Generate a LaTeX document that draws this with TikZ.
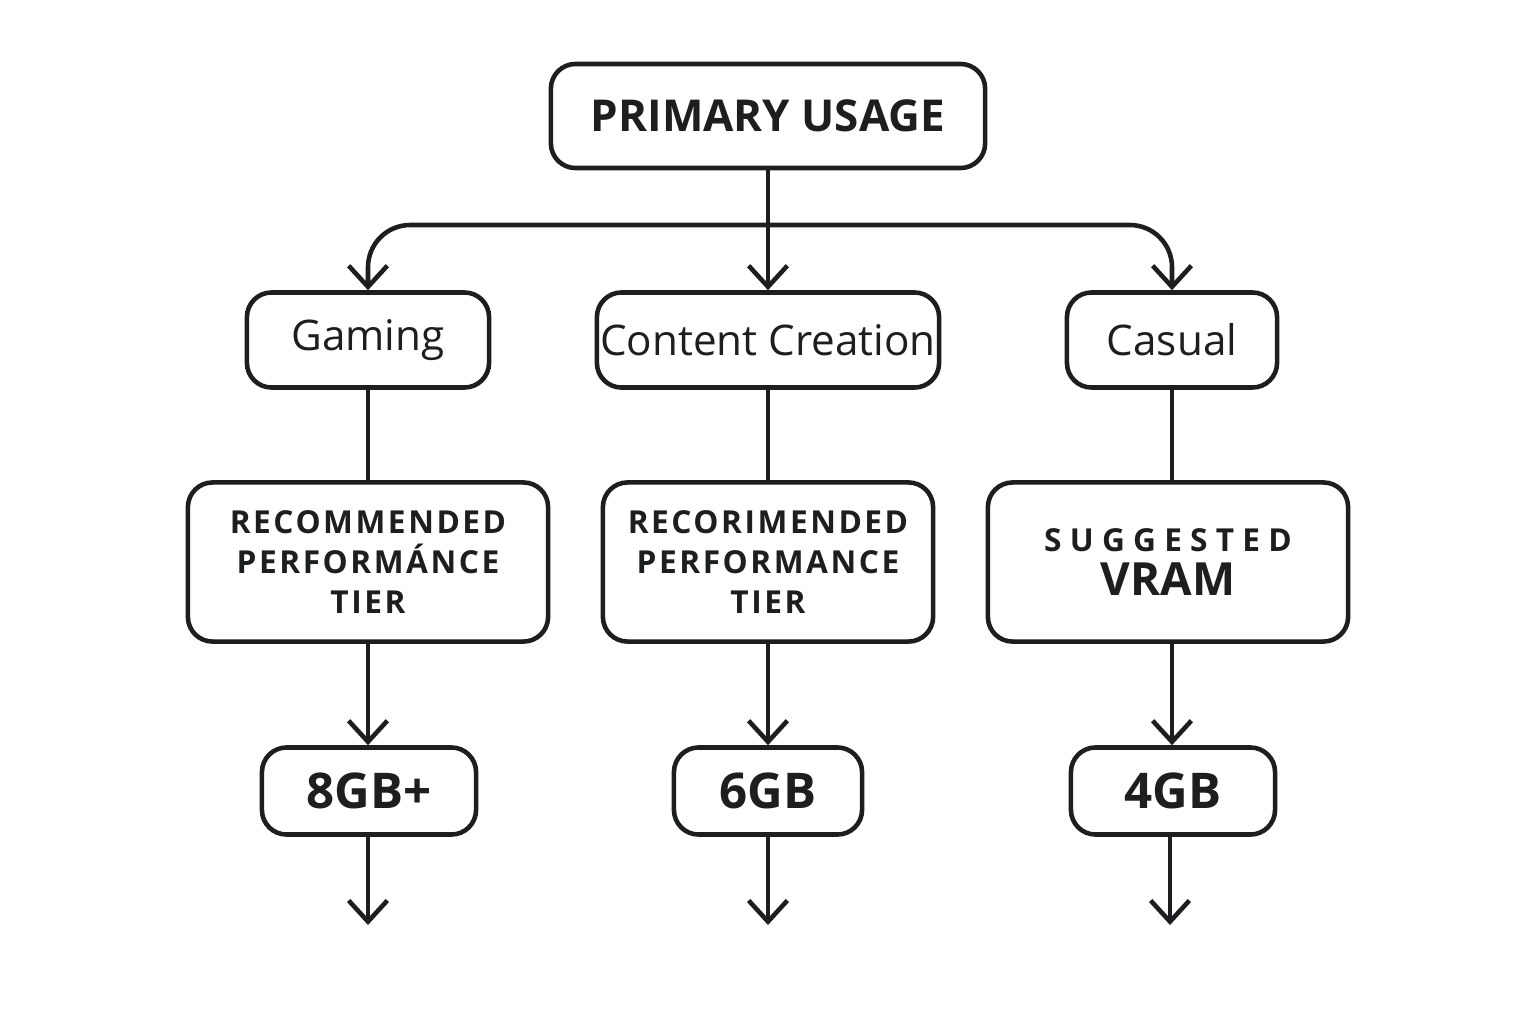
\documentclass[tikz,border=0pt]{standalone}
\usepackage{fontspec}
\setmainfont{Open Sans}
\newfontfamily\spacedfont[LetterSpace=8]{Open Sans}
\usetikzlibrary{positioning,arrows.meta}
\definecolor{inkdark}{RGB}{28,30,32}

\begin{document}
\begin{tikzpicture}[x=0.01cm, y=-0.01cm,
    box/.style={rectangle, draw=inkdark, line width=1.3pt, rounded corners=7pt, align=center, text=inkdark, inner sep=0pt},
    arrow/.style={-{Straight Barb[length=6pt,width=11pt]}, line width=1.3pt, inkdark},
    link/.style={line width=1.3pt, inkdark}]

    \useasboundingbox (0,0) rectangle (1536,1024);
    \fill[white] (0,0) rectangle (1536,1024);

    \node[box, minimum width=4.34cm, minimum height=1.04cm, font=\fontsize{12.5}{15}\selectfont\bfseries] (usage) at (768,116) {PRIMARY USAGE};

    \node[box, minimum width=2.42cm, minimum height=0.95cm, font=\fontsize{12}{15}\selectfont] (gaming) at (368,340) {Gaming};
    \node[box, minimum width=3.42cm, minimum height=0.95cm, font=\fontsize{12}{15}\selectfont] (content) at (768,340) {Content Creation};
    \node[box, minimum width=2.10cm, minimum height=0.95cm, font=\fontsize{12}{15}\selectfont] (casual) at (1172,340) {Casual};

    \node[box, minimum width=3.60cm, minimum height=1.59cm, font=\spacedfont\fontsize{9}{11.5}\selectfont\bfseries] (tierg) at (368,562) {RECOMMENDED\\PERFORMÁNCE\\TIER};
    \node[box, minimum width=3.30cm, minimum height=1.59cm, font=\spacedfont\fontsize{9}{11.5}\selectfont\bfseries] (tierc) at (768,562) {RECORIMENDED\\PERFORMANCE\\TIER};
    \node[box, minimum width=3.60cm, minimum height=1.59cm, font=\fontsize{9}{11.5}\selectfont\bfseries] (vram) at (1168,562) {S U G G E S T E D\\[1pt]{\fontsize{13}{15}\selectfont VRAM}};

    \node[box, minimum width=2.14cm, minimum height=0.87cm, font=\fontsize{14}{17}\selectfont\bfseries] (gb8) at (369,791) {8GB+};
    \node[box, minimum width=1.88cm, minimum height=0.87cm, font=\fontsize{14}{17}\selectfont\bfseries] (gb6) at (768,791) {6GB};
    \node[box, minimum width=2.04cm, minimum height=0.87cm, font=\fontsize{14}{17}\selectfont\bfseries] (gb4) at (1173,791) {4GB};

    \coordinate (fork) at (768,225);
    \coordinate (endg) at (368,925);
    \coordinate (endc) at (768,925);
    \coordinate (endv) at (1170,925);

    % branches from the top box
    \draw[arrow] (usage) -- (content);
    \draw[arrow, rounded corners=12pt] (fork) -| (gaming.north);
    \draw[arrow, rounded corners=12pt] (fork) -| (casual.north);

    % columns
    \draw[link] (gaming) -- (tierg);
    \draw[link] (content) -- (tierc);
    \draw[link] (casual.south) -- (casual.south |- vram.north);
    \draw[arrow] (tierg) -- (gb8.north -| tierg);
    \draw[arrow] (tierc) -- (gb6);
    \draw[arrow] (vram.south -| casual) -- (gb4.north -| casual);
    \draw[arrow] (gb8.south -| endg) -- (endg);
    \draw[arrow] (gb6) -- (endc);
    \draw[arrow] (gb4.south -| endv) -- (endv);
\end{tikzpicture}
\end{document}
